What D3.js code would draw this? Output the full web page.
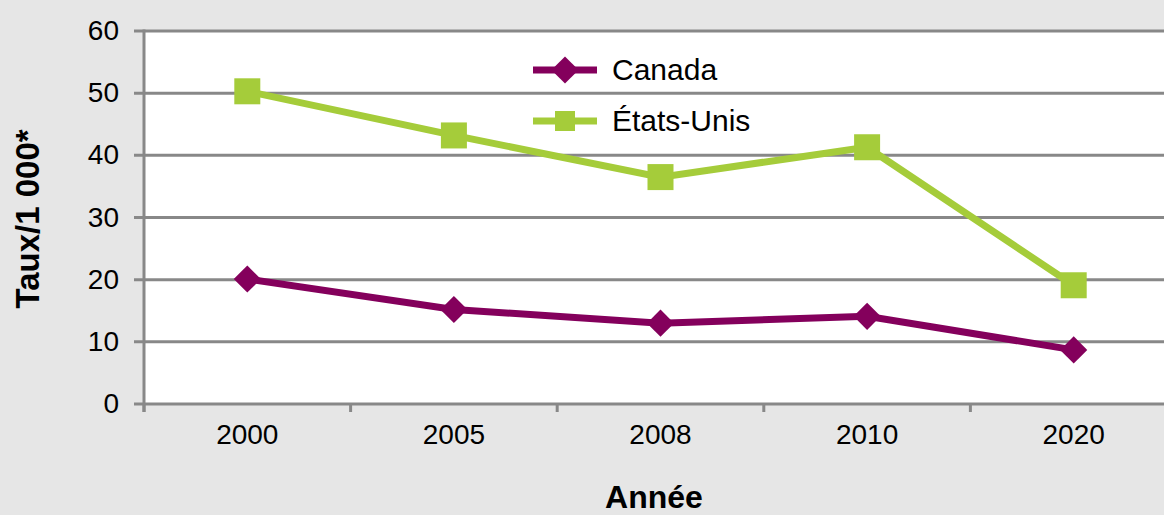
<!DOCTYPE html>
<html><head><meta charset="utf-8">
<script src="https://cdn.jsdelivr.net/npm/d3@7"></script>
<style>body{margin:0;background:#e6e6e6;} svg{display:block;font-family:"Liberation Sans",Arial,Helvetica,sans-serif;}</style>
</head><body>
<script>
const years = ["2000","2005","2008","2010","2020"];
const canada = [20.1, 15.2, 13.0, 14.1, 8.7];
const usa = [50.3, 43.2, 36.5, 41.3, 19.1];
const yTicks = [0,10,20,30,40,50,60];
const seriesNames = ["Canada","États-Unis"];
const colors = ["#84005c","#a5cc3a"];

const W=1164,H=515;
const svg=d3.select("body").append("svg").attr("width",W).attr("height",H);
svg.append("rect").attr("width",W).attr("height",H).attr("fill","#e6e6e6");
const pL=144, pT=31, pB=404, pR=144+5*206.6;
const x=d3.scaleBand().domain(years).range([pL,pR]);
const y=d3.scaleLinear().domain([0,60]).range([pB,pT]);

svg.append("rect").attr("x",pL).attr("y",pT).attr("width",pR-pL).attr("height",pB-pT).attr("fill","#fff");

// grid
svg.selectAll(".grid").data(yTicks).enter().append("line")
 .attr("x1",pL-10).attr("x2",pR).attr("y1",d=>y(d)).attr("y2",d=>y(d))
 .attr("stroke","#888").attr("stroke-width",3);
// y axis line
svg.append("line").attr("x1",pL).attr("x2",pL).attr("y1",pT-1.5).attr("y2",pB+8).attr("stroke","#888").attr("stroke-width",3);
// x ticks
const xt=years.map((d,i)=>pL+i*x.bandwidth()).concat([pR]);
svg.selectAll(".xt").data(xt).enter().append("line").attr("x1",d=>d).attr("x2",d=>d).attr("y1",pB).attr("y2",pB+8).attr("stroke","#888").attr("stroke-width",3);

// y labels
svg.selectAll(".yl").data(yTicks).enter().append("text").attr("x",pL-25).attr("y",d=>y(d)+9).attr("text-anchor","end")
 .attr("font-size",28).attr("fill","#000").text(d=>d);
// x labels
svg.selectAll(".xl").data(years).enter().append("text").attr("x",d=>x(d)+x.bandwidth()/2).attr("y",444).attr("text-anchor","middle")
 .attr("font-size",28).attr("fill","#000").text(d=>d);

svg.append("text").attr("x",654).attr("y",508).attr("text-anchor","middle").attr("font-size",32).attr("font-weight","bold").text("Année");
svg.append("text").attr("transform","translate(39,219) rotate(-90)").attr("text-anchor","middle").attr("font-size",33).attr("font-weight","bold").text("Taux/1 000*");

const line=d3.line().x((d,i)=>x(years[i])+x.bandwidth()/2).y(d=>y(d));
const data=[canada,usa];
data.forEach((s,k)=>{
  svg.append("path").attr("d",line(s)).attr("fill","none").attr("stroke",colors[k]).attr("stroke-width",7).attr("stroke-linejoin","miter");
});
const diamond=d3.symbol().type(d3.symbolDiamond2).size(470);
svg.selectAll(".cm").data(canada).enter().append("path").attr("d",diamond)
 .attr("transform",(d,i)=>`translate(${x(years[i])+x.bandwidth()/2},${y(d)})`).attr("fill",colors[0]);
svg.selectAll(".um").data(usa).enter().append("rect")
 .attr("x",(d,i)=>x(years[i])+x.bandwidth()/2-13).attr("y",d=>y(d)-13).attr("width",26).attr("height",26).attr("fill",colors[1]);

// legend
const lg=[{n:seriesNames[0],c:colors[0],t:"d",yy:70},{n:seriesNames[1],c:colors[1],t:"s",yy:121}];
lg.forEach(l=>{
  svg.append("line").attr("x1",533).attr("x2",597).attr("y1",l.yy).attr("y2",l.yy).attr("stroke",l.c).attr("stroke-width",7);
  if(l.t==="d") svg.append("path").attr("d",diamond).attr("transform",`translate(565,${l.yy})`).attr("fill",l.c);
  else svg.append("rect").attr("x",555).attr("y",l.yy-10).attr("width",20).attr("height",20).attr("fill",l.c);
  svg.append("text").attr("x",612).attr("y",l.yy+10).attr("font-size",30).attr("fill","#000").text(l.n);
});
</script>
</body></html>
